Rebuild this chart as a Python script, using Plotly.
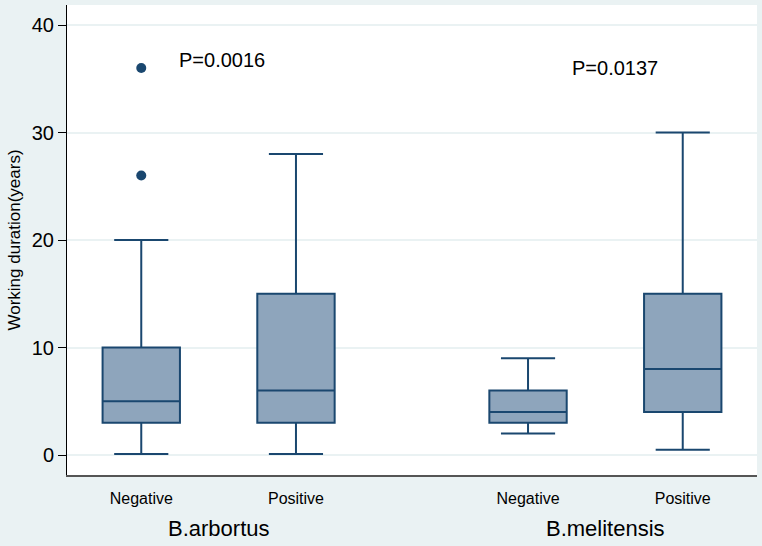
import plotly.graph_objects as go

# Boxes (Stata-style box plot of working duration)
groups = ["B.arbortus", "B.arbortus", "B.melitensis", "B.melitensis"]
status = ["Negative", "Positive", "Negative", "Positive"]
positions = [0, 1, 2.5, 3.5]
lower_whisker = [0.1, 0.1, 2, 0.5]
q1 = [3, 3, 3, 4]
median = [5, 6, 4, 8]
q3 = [10, 15, 6, 15]
upper_whisker = [20, 28, 9, 30]

# Outside values (only for B.arbortus negative)
outlier_x = [0, 0]
outlier_y = [26, 36]

# p-values
p_labels = ["P=0.0016", "P=0.0137"]
p_x = [0.52, 3.06]
p_y = [36.7, 36.0]

navy = "#1a476f"
fill = "#8ea5bc"
bg = "#eaf2f3"

fig = go.Figure()

fig.add_trace(go.Box(
    x=positions,
    q1=q1, median=median, q3=q3,
    lowerfence=lower_whisker, upperfence=upper_whisker,
    width=0.5,
    whiskerwidth=0.7,
    fillcolor=fill,
    line=dict(color=navy, width=2),
    boxpoints=False,
    showlegend=False,
))

fig.add_trace(go.Scatter(
    x=outlier_x, y=outlier_y, mode="markers",
    marker=dict(color=navy, size=10),
    showlegend=False,
))

for txt, xx, yy in zip(p_labels, p_x, p_y):
    fig.add_annotation(x=xx, y=yy, text=txt, showarrow=False,
                       font=dict(size=20, color="black"))

# group labels under the category ticks
for g, xx in [("B.arbortus", 0.5), ("B.melitensis", 3.0)]:
    fig.add_annotation(x=xx, y=0, yref="paper", yanchor="middle", yshift=-53,
                       text=g, showarrow=False,
                       font=dict(size=22, color="black"))

fig.update_layout(
    width=762, height=546,
    paper_bgcolor=bg,
    plot_bgcolor="white",
    font=dict(family="Liberation Sans, Arial, sans-serif", color="black"),
    margin=dict(l=67, r=5, t=5, b=71, autoexpand=False),
    xaxis=dict(
        range=[-0.48, 3.98],
        tickvals=positions, ticktext=status,
        tickfont=dict(size=16),
        showgrid=False, zeroline=False,
        showline=True, linecolor="#555555", linewidth=1.5,
        ticks="outside", ticklen=8, tickcolor="rgba(0,0,0,0)",
    ),
    yaxis=dict(
        range=[-1.86, 41.86],
        tickvals=[0, 10, 20, 30, 40],
        tickfont=dict(size=20),
        ticks="outside", ticklen=8, tickcolor="black", tickwidth=1,
        showgrid=True, gridcolor=bg, gridwidth=1.5,
        zeroline=False,
        showline=True, linecolor="black", linewidth=1,
        title=dict(text="Working duration(years)", font=dict(size=17), standoff=6),
    ),
)

fig.write_html("out.html", config={"displayModeBar": False},
               post_script="document.body.style.margin='0';")
